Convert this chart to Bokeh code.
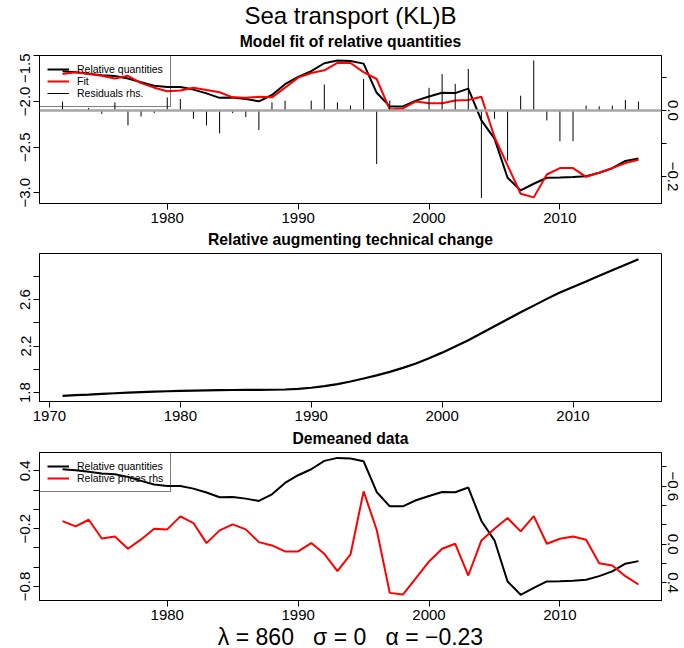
from bokeh.plotting import figure
from bokeh.models import Range1d, LinearAxis, FixedTicker, Label, Legend, LegendItem, Span
from bokeh.layouts import column
from bokeh.embed import file_html
from bokeh.resources import INLINE

FONT = "Liberation Sans"
M = "\u2212"
NB = "\u00a0"

# ---------------- data ----------------
years = list(range(1972, 2017))

rel_quantities = [-1.670, -1.680, -1.697, -1.715, -1.722, -1.749, -1.791, -1.829, -1.843, -1.843,
                  -1.871, -1.912, -1.961, -1.957, -1.975, -1.999, -1.930, -1.812, -1.732, -1.670,
                  -1.583, -1.552, -1.559, -1.587, -1.906, -2.055, -2.055, -1.992, -1.947, -1.906,
                  -1.909, -1.860, -2.207, -2.408, -2.835, -2.974, -2.901, -2.835, -2.832, -2.828,
                  -2.818, -2.780, -2.731, -2.651, -2.624]

fit = [-1.700, -1.680, -1.700, -1.720, -1.750, -1.720, -1.800, -1.850, -1.890, -1.880,
       -1.850, -1.876, -1.900, -1.956, -1.960, -1.950, -1.956, -1.850, -1.740, -1.690,
       -1.660, -1.580, -1.580, -1.680, -1.755, -2.090, -2.077, -2.000, -2.020, -2.020,
       -1.990, -1.985, -1.950, -2.390, -2.700, -3.010, -3.050, -2.800, -2.730, -2.730,
       -2.825, -2.780, -2.730, -2.675, -2.640]

residuals = [0.027, 0.003, 0.008, -0.010, 0.025, -0.045, -0.018, -0.008, 0.040, 0.035,
             -0.025, -0.045, -0.069, -0.008, -0.020, -0.059, 0.025, 0.030, -0.002, 0.030,
             0.079, 0.025, 0.015, 0.096, -0.162, 0.030, 0.005, 0.005, 0.069, 0.111,
             0.081, 0.126, -0.265, -0.025, -0.152, 0.045, 0.152, -0.030, -0.093, -0.093,
             0.015, 0.013, 0.015, 0.032, 0.027]

tc_years = list(range(1971, 2016))
tech_change = [1.772, 1.777, 1.782, 1.788, 1.794, 1.799, 1.804, 1.808, 1.811, 1.814,
               1.817, 1.819, 1.821, 1.822, 1.823, 1.823, 1.824, 1.826, 1.832, 1.841,
               1.855, 1.872, 1.895, 1.921, 1.948, 1.978, 2.012, 2.050, 2.095, 2.143,
               2.195, 2.250, 2.310, 2.370, 2.430, 2.490, 2.547, 2.605, 2.660, 2.708,
               2.755, 2.803, 2.851, 2.899, 2.946]

dm_quantities = [0.417, 0.407, 0.390, 0.372, 0.365, 0.338, 0.296, 0.258, 0.244, 0.244,
                 0.216, 0.175, 0.126, 0.130, 0.112, 0.088, 0.157, 0.275, 0.355, 0.417,
                 0.504, 0.535, 0.528, 0.500, 0.181, 0.032, 0.032, 0.095, 0.140, 0.181,
                 0.178, 0.227, -0.120, -0.321, -0.748, -0.887, -0.814, -0.748, -0.745, -0.741,
                 -0.731, -0.693, -0.644, -0.564, -0.537]

dm_prices = [-0.239, -0.184, -0.253, -0.059, -0.080, 0.048, -0.049, -0.160, -0.153, -0.288,
             -0.219, -0.011, -0.143, -0.205, -0.153, -0.021, 0.013, 0.075, 0.075, -0.011,
             0.100, 0.280, 0.107, -0.547, -0.149, 0.505, 0.522, 0.352, 0.179, 0.048,
             -0.004, 0.325, -0.039, -0.160, -0.271, -0.132, -0.291, -0.004, -0.056, -0.080,
             -0.046, 0.197, 0.221, 0.332, 0.418]

p1_yticks = [-3.0, -2.5, -2.0, -1.5]
p1_ylabels = [M + "3.0", M + "2.5", M + "2.0", M + "1.5"]
p1_rticks = [-0.2, -0.1, 0.0, 0.1]
p1_rlabels = [M + "0.2", "", "0.0", ""]
p2_yticks = [1.8, 2.0, 2.2, 2.4, 2.6, 2.8]
p2_ylabels = ["1.8", "", "2.2", "", "2.6", ""]
p3_yticks = [-0.8, -0.6, -0.4, -0.2, 0.0, 0.2, 0.4]
p3_ylabels = [M + "0.8", "", "", M + "0.2", "", "", "0.4"]
p3_rticks = [-0.8, -0.6, -0.4, -0.2, 0.0, 0.2, 0.4]
p3_rlabels = ["", M + "0.6", "", "", "0.0", "", "0.4"]
x_ticks_a = [1980, 1990, 2000, 2010]
x_ticks_b = [1970, 1980, 1990, 2000, 2010]

main_title = "Sea transport (KL)B"
panel_titles = ["Model fit of relative quantities", "Relative augmenting technical change", "Demeaned data"]
formula = ("\u03bb = 860" + NB * 3 + "\u03c3 = 0" + NB * 3 + "\u03b1 = " + M + "0.23")

# ---------------- helpers ----------------
W = 684


def style_axis(ax, ticks, labels, tick_out=6, standoff=3, vertical=False):
    ax.ticker = FixedTicker(ticks=ticks)
    ax.major_label_overrides = {t: l for t, l in zip(ticks, labels)}
    ax.minor_tick_line_color = None
    ax.major_tick_out = tick_out
    ax.major_tick_in = 0
    ax.axis_line_color = "black"
    ax.axis_line_width = 1
    ax.major_tick_line_color = "black"
    ax.major_label_text_font = FONT
    ax.major_label_text_font_size = "15px"
    ax.major_label_text_color = "black"
    ax.major_label_standoff = standoff
    if vertical:
        ax.major_label_orientation = "vertical"


def make_fig(xr, yr, height, bottom):
    p = figure(width=W, height=height, x_range=xr, y_range=yr,
               output_backend="svg", toolbar_location=None,
               min_border_left=39, min_border_right=23,
               min_border_top=2, min_border_bottom=bottom,
               background_fill_color="white", border_fill_color="white")
    p.xgrid.visible = False
    p.ygrid.visible = False
    p.outline_line_color = "black"
    p.outline_line_width = 1
    return p


def text_fig(height, texts):
    p = figure(width=W, height=height, x_range=Range1d(0, 1), y_range=Range1d(0, 1),
               output_backend="svg", toolbar_location=None, min_border=0,
               x_axis_type=None, y_axis_type=None,
               background_fill_color="white", border_fill_color="white")
    p.outline_line_color = None
    p.grid.visible = False
    for (txt, cx, y, size, style) in texts:
        p.add_layout(Label(x=cx, y=y, x_units="screen", y_units="screen", text=txt,
                           text_align="center", text_baseline="alphabetic", text_font=FONT,
                           text_font_size=size, text_font_style=style, text_color="black"))
    return p


def make_legend(items):
    return Legend(items=items, location="top_left", margin=0, padding=7, spacing=0,
                  glyph_width=22, glyph_height=12, label_height=12, label_standoff=8,
                  label_text_font=FONT, label_text_font_size="10.5px", label_text_color="black",
                  border_line_color="black", border_line_width=1, background_fill_alpha=0)


CX = 311  # centre of the plot frame (frames are aligned in the column)

# ---------------- title block ----------------
t_top = text_fig(53, [(main_title, CX, 38.5, "24px", "normal"),
                      (panel_titles[0], CX, 12.5, "15.7px", "bold")])

# ---------------- panel 1 ----------------
p1 = make_fig(Range1d(1970.24, 2017.76), Range1d(-3.117, -1.498), 173, 23)
p1.extra_y_ranges = {"res": Range1d(-0.282, 0.167)}
r_q = p1.line(years, rel_quantities, line_color="black", line_width=2)
r_f = p1.line(years, fit, line_color="red", line_width=2)
p1.add_layout(Span(location=0, dimension="width", y_range_name="res",
                   line_color="#a6a6a6", line_width=2.5))
r_r = p1.segment(x0=years, y0=[0] * len(years), x1=years, y1=residuals,
                 y_range_name="res", line_color="black", line_width=1)
raxis1 = LinearAxis(y_range_name="res")
p1.add_layout(raxis1, "right")
style_axis(p1.xaxis[0], x_ticks_a, [str(t) for t in x_ticks_a])
style_axis(p1.yaxis[0], p1_yticks, p1_ylabels, vertical=True)
style_axis(raxis1, p1_rticks, p1_rlabels, tick_out=5, standoff=1, vertical=True)
p1.add_layout(make_legend([
    LegendItem(label="Relative quantities", renderers=[r_q]),
    LegendItem(label="Fit", renderers=[r_f]),
    LegendItem(label="Residuals rhs.", renderers=[r_r]),
]))

t2 = text_fig(25, [(panel_titles[1], CX, 12, "15.7px", "bold")])

# ---------------- panel 2 ----------------
p2 = make_fig(Range1d(1969.24, 2016.76), Range1d(1.723, 2.995), 174, 24)
p2.line(tc_years, tech_change, line_color="black", line_width=2.2)
style_axis(p2.xaxis[0], x_ticks_b, [str(t) for t in x_ticks_b])
style_axis(p2.yaxis[0], p2_yticks, p2_ylabels, vertical=True)

t3 = text_fig(25, [(panel_titles[2], CX, 12, "15.7px", "bold")])

# ---------------- panel 3 ----------------
p3 = make_fig(Range1d(1970.24, 2017.76), Range1d(-0.946, 0.591), 173, 23)
p3.extra_y_ranges = {"rp": Range1d(start=0.584, end=-0.95)}
r_dq = p3.line(years, dm_quantities, line_color="black", line_width=2)
r_dp = p3.line(years, dm_prices, line_color="red", line_width=2, y_range_name="rp")
raxis3 = LinearAxis(y_range_name="rp")
p3.add_layout(raxis3, "right")
style_axis(p3.xaxis[0], x_ticks_a, [str(t) for t in x_ticks_a])
style_axis(p3.yaxis[0], p3_yticks, p3_ylabels, vertical=True)
style_axis(raxis3, p3_rticks, p3_rlabels, tick_out=5, standoff=1, vertical=True)
p3.add_layout(make_legend([
    LegendItem(label="Relative quantities", renderers=[r_dq]),
    LegendItem(label="Relative prices rhs", renderers=[r_dp]),
]))

t4 = text_fig(25, [(formula, CX, 12, "23px", "normal")])

layout = column(t_top, p1, t2, p2, t3, p3, t4, spacing=0)
open("out.html", "w").write(file_html(layout, INLINE))
